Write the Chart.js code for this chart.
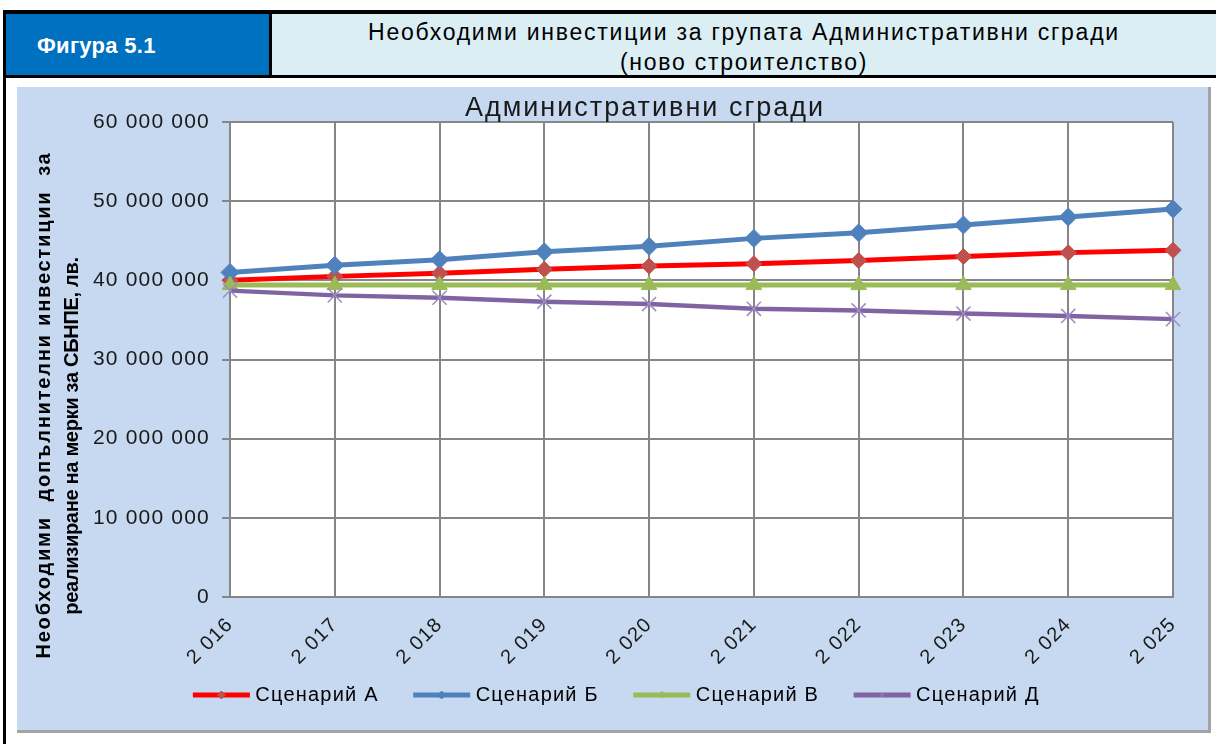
<!DOCTYPE html>
<html>
<head>
<meta charset="utf-8">
<script src="https://cdn.jsdelivr.net/npm/chart.js@4.4.0/dist/chart.umd.min.js"></script>
<style>
    body { margin: 0; width: 1216px; height: 744px; overflow: hidden; background: #fff; position: relative; font-family: Arial, "Liberation Sans", sans-serif; }
    .blk { position: absolute; background: #000; }
    #fig { position: absolute; left: 6px; top: 14px; width: 232px; height: 61px; padding-left: 31px; background: #0070C0; color: #fff; font-weight: bold; font-size: 22px; line-height: 64px; letter-spacing: 0.3px; }
    #hdr { position: absolute; left: 272px; top: 14px; width: 944px; height: 58px; padding-top: 3px; background: #DBEEF4; color: #000; font-size: 23px; line-height: 30px; text-align: center; letter-spacing: 1.75px; }
    #panel { position: absolute; left: 17px; top: 87px; width: 1191px; height: 643px; background: #C6D9F0; border-right: 3px solid #a3a3a3; border-bottom: 3px solid #a3a3a3; }
</style>
</head>
<body>
<div class="blk" style="left:3px;top:10px;width:1213px;height:4px"></div>
<div class="blk" style="left:3px;top:10px;width:3px;height:734px"></div>
<div class="blk" style="left:269px;top:14px;width:3px;height:61px"></div>
<div class="blk" style="left:3px;top:75px;width:1213px;height:3px"></div>
<div id="fig">Фигура 5.1</div>
<div id="hdr">Необходими инвестиции за групата Административни сгради<br>(ново строителство)</div>
<div id="panel"><canvas id="chart"></canvas></div>

<script>
// Données
const years = [2016, 2017, 2018, 2019, 2020, 2021, 2022, 2023, 2024, 2025];
const scenarioA = [40000000, 40500000, 40900000, 41400000, 41800000, 42100000, 42500000, 43000000, 43500000, 43800000];
const scenarioB = [41000000, 41900000, 42600000, 43600000, 44300000, 45300000, 46000000, 47000000, 48000000, 49000000];
const scenarioV = [39400000, 39400000, 39400000, 39400000, 39400000, 39400000, 39400000, 39400000, 39400000, 39400000];
const scenarioD = [38700000, 38100000, 37800000, 37300000, 37000000, 36400000, 36200000, 35800000, 35500000, 35100000];
const seriesNames = ['Сценарий А', 'Сценарий Б', 'Сценарий В', 'Сценарий Д'];
const chartTitle = 'Административни сгради';
const yTitle = ['Необходими  допълнителни инвестиции  за', 'реализиране на мерки за СБНПЕ, лв.'];

// Format "60 000 000"
function spaced(v) {
    return String(v).replace(/\B(?=(\d{3})+(?!\d))/g, ' ');
}

// Icône de légende : trait + marqueur
function legendIcon(ds) {
    const c = document.createElement('canvas');
    c.width = 80;
    c.height = 18;
    const g = c.getContext('2d');
    g.strokeStyle = ds.borderColor;
    g.lineWidth = 5;
    g.beginPath();
    g.moveTo(21, 9);
    g.lineTo(78, 9);
    g.stroke();
    g.fillStyle = ds.pointBackgroundColor;
    g.strokeStyle = ds.pointBorderColor;
    g.lineWidth = 1;
    Chart.helpers.drawPoint(g, { pointStyle: ds.pointStyle, radius: 4, rotation: 0, borderWidth: 1 }, 49.5, 9);
    return c;
}

const datasets = [
    {
        label: seriesNames[0], data: scenarioA, order: 4,
        borderColor: '#FF0000', borderWidth: 5,
        pointStyle: 'rectRot', pointRadius: 8, pointBackgroundColor: '#C0504D', pointBorderColor: '#C0504D', pointBorderWidth: 1
    },
    {
        label: seriesNames[1], data: scenarioB, order: 3,
        borderColor: '#4F81BD', borderWidth: 5,
        pointStyle: 'rectRot', pointRadius: 9, pointBackgroundColor: '#4F81BD', pointBorderColor: '#4F81BD', pointBorderWidth: 1
    },
    {
        label: seriesNames[2], data: scenarioV, order: 2,
        borderColor: '#9BBB59', borderWidth: 5,
        pointStyle: 'triangle', pointRadius: 9, pointBackgroundColor: '#9BBB59', pointBorderColor: '#9BBB59', pointBorderWidth: 1
    },
    {
        label: seriesNames[3], data: scenarioD, order: 1,
        borderColor: '#8064A2', borderWidth: 4.5,
        pointStyle: 'crossRot', pointRadius: 10, pointBackgroundColor: '#9E8AC4', pointBorderColor: '#9E8AC4', pointBorderWidth: 1.5
    }
];
datasets.forEach(ds => { ds.tension = 0; ds.clip = false; });

// Fond blanc de la zone de tracé, titres
const decorPlugin = {
    id: 'decor',
    beforeUpdate(chart) { chart.ctx.letterSpacing = '1.2px'; },
    beforeDraw(chart) {
        const { ctx, chartArea: a } = chart;
        ctx.save();
        ctx.fillStyle = '#fff';
        ctx.fillRect(a.left, a.top, a.right - a.left, a.bottom - a.top);
        ctx.restore();
        ctx.letterSpacing = '1.2px';
    },
    afterDraw(chart) {
        const ctx = chart.ctx;
        ctx.save();
        ctx.fillStyle = '#1a1a1a';
        ctx.textAlign = 'center';
        ctx.textBaseline = 'alphabetic';
        ctx.font = '27px Arial';
        ctx.letterSpacing = '2px';
        ctx.fillText(chartTitle, 628, 29);
        ctx.fillStyle = '#000';
        ctx.font = 'bold 20px Arial';
        ctx.textBaseline = 'middle';
        const pos = [[27, 318, '1.8px'], [55, 349, '-0.3px']];
        yTitle.forEach((line, i) => {
            ctx.save();
            ctx.letterSpacing = pos[i][2];
            ctx.translate(pos[i][0], pos[i][1]);
            ctx.rotate(-Math.PI / 2);
            ctx.fillText(line, 0, 0);
            ctx.restore();
        });
        ctx.restore();
    }
};

const icons = datasets.map(legendIcon);

new Chart(document.getElementById('chart'), {
    type: 'line',
    data: { labels: years, datasets: datasets },
    plugins: [decorPlugin],
    options: {
        responsive: true,
        maintainAspectRatio: false,
        animation: false,
        layout: { padding: { top: 35, right: 35, left: 28, bottom: 15 } },
        plugins: {
            title: { display: false },
            tooltip: { enabled: false },
            legend: {
                position: 'bottom',
                labels: {
                    usePointStyle: true,
                    pointStyleWidth: 67,
                    padding: 20,
                    color: '#000',
                    font: { family: 'Arial', size: 20 },
                    generateLabels: chart => chart.data.datasets.map((ds, i) => ({
                        text: ds.label,
                        pointStyle: icons[i],
                        fillStyle: ds.borderColor,
                        strokeStyle: ds.borderColor,
                        lineWidth: 0,
                        fontColor: '#000',
                        hidden: !chart.isDatasetVisible(i),
                        datasetIndex: i
                    }))
                }
            }
        },
        scales: {
            x: {
                offset: false,
                afterFit: s => { s.height = 68; },
                grid: { color: '#868686', lineWidth: 2, drawTicks: false },
                border: { color: '#868686', width: 2 },
                ticks: {
                    autoSkip: false,
                    minRotation: 45,
                    maxRotation: 45,
                    padding: 16,
                    color: '#1a1a1a',
                    font: { family: 'Arial', size: 20 },
                    callback: function(value) { return spaced(this.getLabelForValue(value)); }
                }
            },
            y: {
                min: 0,
                max: 60000000,
                afterFit: s => { s.width = 185; },
                grid: { color: '#868686', lineWidth: 2, tickLength: 8 },
                border: { color: '#868686', width: 2 },
                ticks: {
                    stepSize: 10000000,
                    padding: 12,
                    color: '#1a1a1a',
                    font: { family: 'Arial', size: 21 },
                    callback: value => spaced(value)
                }
            }
        }
    }
});
</script>
</body>
</html>
